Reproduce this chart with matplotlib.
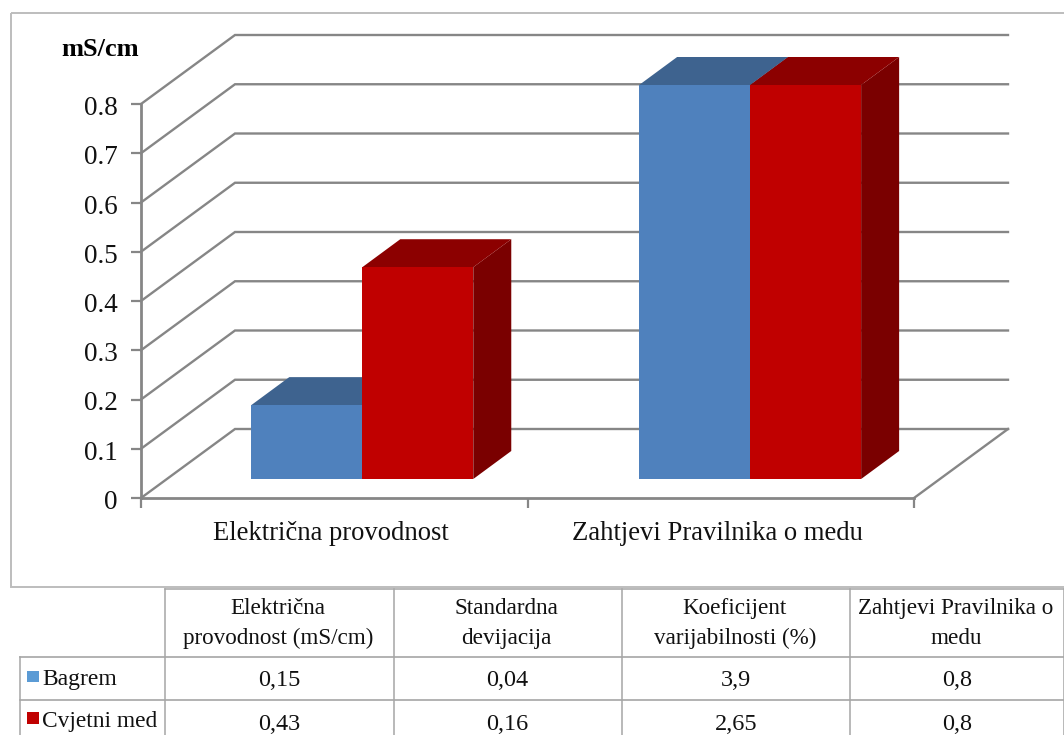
import matplotlib
matplotlib.use("Agg")
import matplotlib.pyplot as plt
from matplotlib.patches import Polygon, Rectangle
from matplotlib.transforms import ScaledTranslation

plt.rcParams['font.family'] = ['Liberation Serif', 'DejaVu Serif']

categories = ['Električna provodnost', 'Zahtjevi Pravilnika o medu']
series_names = ['Bagrem', 'Cvjetni med']
bagrem = [0.15, 0.80]
cvjetni = [0.43, 0.80]
y_ticks = [0, 0.1, 0.2, 0.3, 0.4, 0.5, 0.6, 0.7, 0.8]
y_labels = ['0', '0.1', '0.2', '0.3', '0.4', '0.5', '0.6', '0.7', '0.8']
unit = 'mS/cm'

table_headers = ['Električna\nprovodnost (mS/cm)', 'Standardna\ndevijacija',
                 'Koeficijent\nvarijabilnosti (%)', 'Zahtjevi Pravilnika o\nmedu']
table_bagrem = ['0,15', '0,04', '3,9', '0,8']
table_cvjetni = ['0,43', '0,16', '2,65', '0,8']

W, H = 1064, 735
fig = plt.figure(figsize=(W / 100, H / 100), dpi=100, facecolor='white')

# overlay in pixels: frame and table
pg = fig.add_axes([0, 0, 1, 1], zorder=0)
pg.set_xlim(0, W)
pg.set_ylim(H, 0)
pg.axis('off')
pg.add_patch(Rectangle((10.5, 13), 1070, 574, fill=False, ec='#BDBDBD', lw=1.4, clip_on=True))

# main chart axes: x in category units, y in value units
L, R, T, B = 141, 914, 104, 498
ax = fig.add_axes([L / W, 1 - B / H, (R - L) / W, (B - T) / H], zorder=1)
ax.set_xlim(0, 2)
ax.set_ylim(0, 0.8)
ax.patch.set_alpha(0)
for s in ax.spines.values():
    s.set_visible(False)

px_x = 2 / (R - L)
px_y = 0.8 / (B - T)
dx, dy = 94 * px_x, 69 * px_y          # floor depth
fx, fy = 26 * px_x, 19 * px_y          # front of bars inside floor
bx, by = 38 * px_x, 28 * px_y          # bar depth
bw = 111 * px_x                        # bar width
grid_c = '#868686'

for v in y_ticks:
    ax.plot([0, dx, 2 + dx], [v, v + dy, v + dy], color=grid_c, lw=1.7,
            clip_on=False, zorder=1, solid_joinstyle='miter')
ax.plot([2, 2 + dx], [0, dy], color=grid_c, lw=1.7, clip_on=False, zorder=1)
ax.plot([0, 2], [0, 0], color=grid_c, lw=2.0, clip_on=False, zorder=1)
ax.plot([0, 0], [0, 0.8], color=grid_c, lw=2.0, clip_on=False, zorder=1)

ax.set_yticks(y_ticks, y_labels)
ax.set_xticks([0, 1, 2], ['', '', ''])
ax.tick_params(axis='y', length=7, width=1.6, color=grid_c, labelsize=19.5, pad=10, labelcolor='#111111')
ax.tick_params(axis='x', length=7, width=1.6, color=grid_c)
for lab in ax.get_yticklabels():
    lab.set_transform(lab.get_transform() + ScaledTranslation(0, -1.5 / 100, fig.dpi_scale_trans))

shift = 0.0725


def bar3d(x0, v, front, top, side):
    x1 = x0 + bw
    y0 = fy
    y1 = fy + v
    ax.add_patch(Polygon([(x1, y0), (x1 + bx, y0 + by), (x1 + bx, y1 + by), (x1, y1)],
                         fc=side, ec='none', clip_on=False, zorder=3))
    ax.add_patch(Polygon([(x0, y1), (x1, y1), (x1 + bx, y1 + by), (x0 + bx, y1 + by)],
                         fc=top, ec='none', clip_on=False, zorder=3))
    ax.add_patch(Rectangle((x0, y0), bw, v, fc=front, ec='none', clip_on=False, zorder=3))


for i in range(len(categories)):
    c = i + 0.5 + shift + (0.0035 * i)
    bar3d(c - bw, bagrem[i], '#4F81BD', '#3E638F', '#34547A')
    bar3d(c, cvjetni[i], '#C00000', '#8C0000', '#7A0000')

for i, name in enumerate(categories):
    ax.annotate(name, xy=(i + 0.5, 0), xytext=(-3, -36), textcoords='offset pixels',
                ha='center', va='center', fontsize=19.2, color='#111111', annotation_clip=False)

ax.annotate(unit, xy=(0, 0.8), xytext=(-2, 55), textcoords='offset pixels', ha='right', va='center',
            fontsize=19, fontweight='bold', color='black', annotation_clip=False)

# table
line_c = '#A6A6A6'
cols = [165, 393.5, 621.5, 850, 1064]
for x in cols:
    pg.plot([x, x], [589, H], color=line_c, lw=1.1)
pg.plot([19.5, 19.5], [657, H], color=line_c, lw=1.1)
pg.plot([165, W], [589, 589], color=line_c, lw=1.1)
pg.plot([19.5, W], [657, 657], color=line_c, lw=1.2)
pg.plot([19.5, W], [700, 700], color=line_c, lw=1.2)

centers = [(cols[i] + cols[i + 1]) / 2 for i in range(4)]
tfs = 17.5
for cx, head, b, c in zip(centers, table_headers, table_bagrem, table_cvjetni):
    pg.text(cx - 1, 623.5, head, ha='center', va='center', fontsize=16.7, linespacing=1.55, color='#111111')
    pg.text(cx, 681, b, ha='center', va='center', fontsize=tfs, color='#111111')
    pg.text(cx, 724, c, ha='center', va='center', fontsize=tfs, color='#111111')

pg.add_patch(Rectangle((27, 671), 11.5, 11, fc='#5B9BD5', ec='none'))
pg.add_patch(Rectangle((27, 712), 11.5, 12, fc='#C00000', ec='none'))
pg.text(42, 679, series_names[0], ha='left', va='center', fontsize=17, color='#111111')
pg.text(42, 722, series_names[1], ha='left', va='center', fontsize=16.8, color='#111111')

fig.savefig('out.png', dpi=100)
